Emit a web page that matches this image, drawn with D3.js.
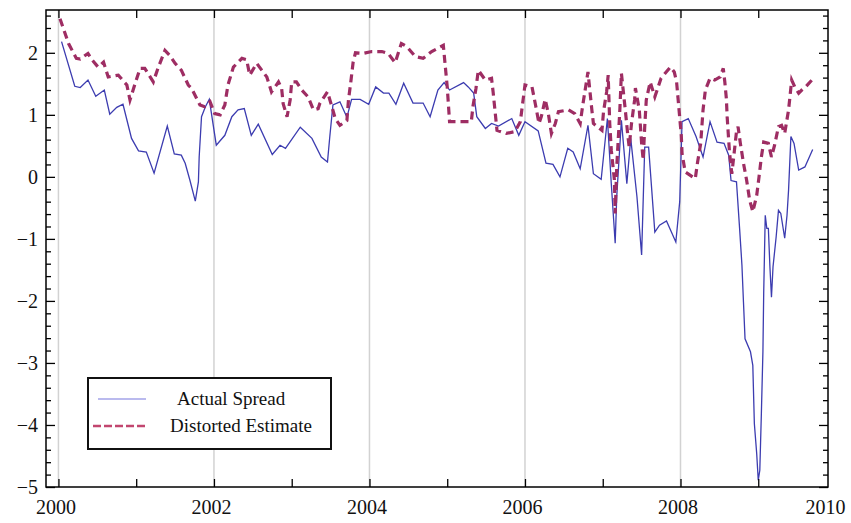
<!DOCTYPE html>
<html>
<head>
<meta charset="utf-8">
<script src="https://cdn.jsdelivr.net/npm/d3@7"></script>
<style>
  body { margin: 0; background: #fff; }
  text { font-family: "Liberation Serif", "Times New Roman", serif; }
</style>
</head>
<body>
<div id="chart"></div>
<script>
// actual spread: decimal year / value
const actualT = [2000.04,2000.21,2000.28,2000.38,2000.48,2000.59,2000.66,2000.75,2000.83,2000.94,
  2001.03,2001.13,2001.23,2001.40,2001.49,2001.58,2001.63,2001.69,2001.76,2001.80,2001.81,2001.84,2001.89,2001.94,
  2002.03,2002.14,2002.23,2002.31,2002.39,2002.48,2002.57,2002.75,2002.85,2002.92,
  2003.11,2003.26,2003.38,2003.46,2003.49,2003.53,2003.62,2003.71,2003.77,2003.88,2003.99,
  2004.08,2004.18,2004.25,2004.34,2004.44,2004.56,2004.69,2004.78,2004.88,2004.96,
  2005.03,2005.21,2005.27,2005.34,2005.38,2005.49,2005.57,2005.66,2005.83,2005.92,
  2006.00,2006.17,2006.27,2006.36,2006.45,2006.55,2006.62,2006.71,2006.81,2006.88,2006.98,
  2007.06,2007.11,2007.16,2007.18,2007.24,2007.31,2007.36,2007.44,2007.50,2007.54,2007.59,2007.67,2007.73,2007.82,2007.94,2007.99,
  2008.02,2008.10,2008.20,2008.29,2008.38,2008.47,2008.56,2008.62,2008.65,2008.72,2008.76,2008.79,2008.81,2008.83,2008.90,2008.93,2008.95,2008.98,
  2009.00,2009.02,2009.04,2009.06,2009.07,2009.09,2009.11,2009.13,2009.15,2009.17,2009.19,2009.23,2009.26,2009.29,2009.34,2009.37,2009.39,2009.42,2009.46,2009.52,2009.60,2009.70];
const actualV = [2.18,1.46,1.44,1.56,1.30,1.40,1.01,1.12,1.17,0.62,
  0.42,0.40,0.06,0.82,0.37,0.35,0.22,-0.05,-0.39,-0.08,0.32,0.97,1.13,1.25,
  0.51,0.67,0.97,1.08,1.10,0.67,0.85,0.36,0.51,0.46,
  0.80,0.62,0.32,0.24,0.65,1.16,1.21,0.96,1.25,1.25,1.17,
  1.45,1.35,1.35,1.17,1.51,1.19,1.19,0.97,1.40,1.52,
  1.40,1.52,1.45,1.35,0.97,0.78,0.86,0.82,0.94,0.67,
  0.89,0.74,0.22,0.20,0.00,0.46,0.40,0.13,0.83,0.05,-0.04,
  0.94,-0.11,-1.07,-0.32,0.91,-0.11,0.62,-0.32,-1.26,0.48,0.48,-0.89,-0.78,-0.71,-1.05,-0.40,
  0.89,0.94,0.65,0.32,0.89,0.56,0.54,0.35,-0.06,-0.08,-0.83,-1.42,-2.02,-2.61,-2.82,-3.04,-3.98,-4.46,
  -4.89,-4.73,-3.82,-2.82,-1.88,-0.62,-0.83,-0.83,-1.45,-1.94,-1.45,-0.97,-0.54,-0.59,-0.99,-0.62,-0.21,0.65,0.54,0.11,0.16,0.44];

// distorted estimate: decimal year / value
const estT = [2000.02,2000.13,2000.23,2000.28,2000.38,2000.43,2000.51,2000.58,2000.64,2000.77,2000.88,2000.92,2000.98,
  2001.05,2001.11,2001.22,2001.28,2001.37,2001.43,2001.50,2001.58,2001.67,2001.71,2001.82,2001.88,2001.95,
  2002.01,2002.08,2002.14,2002.18,2002.25,2002.36,2002.42,2002.46,2002.55,2002.68,2002.74,2002.83,2002.87,2002.89,2002.94,2002.98,
  2003.00,2003.06,2003.13,2003.21,2003.28,2003.34,2003.36,2003.46,2003.51,2003.56,2003.62,2003.71,2003.73,2003.76,2003.79,2003.82,2003.92,
  2004.03,2004.16,2004.24,2004.33,2004.41,2004.48,2004.59,2004.69,2004.80,2004.95,
  2005.00,2005.03,2005.31,2005.33,2005.37,2005.40,2005.49,2005.57,2005.59,2005.64,2005.76,2005.87,2005.94,
  2006.00,2006.09,2006.14,2006.18,2006.21,2006.26,2006.30,2006.34,2006.39,2006.43,2006.56,2006.64,2006.71,2006.74,2006.81,2006.86,2006.88,2006.99,
  2007.01,2007.05,2007.07,2007.09,2007.11,2007.15,2007.16,2007.18,2007.22,2007.24,2007.29,2007.32,2007.34,2007.37,2007.41,2007.42,2007.47,2007.50,2007.52,2007.54,2007.56,2007.61,2007.67,2007.75,2007.87,2007.92,2007.95,2007.97,
  2008.01,2008.02,2008.06,2008.19,2008.22,2008.26,2008.29,2008.32,2008.38,2008.44,2008.51,2008.55,2008.57,2008.59,2008.60,2008.63,2008.66,2008.68,2008.72,2008.74,2008.77,2008.81,2008.85,2008.89,2008.93,2008.98,
  2009.01,2009.04,2009.07,2009.13,2009.17,2009.21,2009.26,2009.30,2009.34,2009.39,2009.41,2009.43,2009.47,2009.52,2009.56,2009.61,2009.71];
const estV = [2.55,2.15,1.91,1.90,1.99,1.89,1.77,1.85,1.61,1.64,1.48,1.24,1.48,
  1.75,1.75,1.53,1.75,2.04,1.96,1.83,1.72,1.48,1.43,1.16,1.13,1.21,
  1.02,1.00,1.16,1.48,1.77,1.91,1.89,1.64,1.83,1.61,1.37,1.53,1.43,1.18,0.97,1.24,
  1.53,1.53,1.40,1.29,1.08,1.10,1.18,1.37,1.16,0.94,0.83,0.91,1.24,1.53,1.85,2.00,1.99,
  2.02,2.02,1.99,1.84,2.15,2.10,1.94,1.91,2.02,2.12,
  1.45,0.89,0.89,1.13,1.43,1.72,1.56,1.59,1.37,0.75,0.70,0.73,0.89,
  1.48,1.45,1.13,0.86,0.97,1.25,1.02,0.70,0.86,1.05,1.08,1.02,0.86,1.13,1.69,1.08,0.86,0.75,
  1.05,1.37,1.64,0.86,0.43,-0.05,-0.59,0.16,1.08,1.67,1.08,0.70,0.48,0.86,1.24,1.43,1.08,0.54,0.27,0.81,1.24,1.53,1.29,1.59,1.77,1.69,1.53,1.24,
  0.67,0.38,0.08,-0.03,0.24,0.54,1.08,1.40,1.59,1.56,1.61,1.75,1.53,1.26,0.97,0.40,0.05,0.27,0.73,0.81,0.54,0.22,-0.05,-0.38,-0.56,-0.30,
  0.00,0.32,0.56,0.54,0.32,0.51,0.81,0.83,0.70,1.08,1.32,1.56,1.45,1.35,1.40,1.45,1.59];

const gridYears = [2000, 2002, 2004, 2006, 2008];
const xLabelYears = [2000, 2002, 2004, 2006, 2008, 2010];
const allYears = [2000, 2001, 2002, 2003, 2004, 2005, 2006, 2007, 2008, 2009];
const yMajor = [-5, -4, -3, -2, -1, 0, 1, 2];
const seriesNames = ["Actual Spread", "Distorted Estimate"];

const WIDTH = 851, HEIGHT = 523;
const LEFT = 46, TOP = 10, RIGHT = 828, BOTTOM = 487;
const BLUE = "#3c3cb0", RED = "#9e2d63";

const svg = d3.select("#chart").append("svg")
  .attr("width", WIDTH).attr("height", HEIGHT);

const x = d3.scaleLinear().domain([1999.84, 2009.897]).range([LEFT, RIGHT]);
const y = d3.scaleLinear().domain([-5, 2.69]).range([BOTTOM, TOP]);

// vertical grid
svg.selectAll(".grid").data(gridYears).enter().append("line")
  .attr("x1", d => x(d)).attr("x2", d => x(d))
  .attr("y1", TOP).attr("y2", BOTTOM)
  .attr("stroke", "#d2d2d2").attr("stroke-width", 1.5);

const line = d3.line().x(d => x(d[0])).y(d => y(d[1]));

svg.append("path")
  .datum(actualT.map((t, i) => [t, actualV[i]]))
  .attr("d", line).attr("fill", "none")
  .attr("stroke", BLUE).attr("stroke-width", 1.3);

svg.append("path")
  .datum(estT.map((t, i) => [t, estV[i]]))
  .attr("d", line).attr("fill", "none")
  .attr("stroke", RED).attr("stroke-width", 3.2)
  .attr("stroke-dasharray", "8,5");

// minor y values every 0.2
const yMinor = d3.range(-50, 27, 2).map(d => d / 10).filter(d => !yMajor.includes(d));

function styleAxis(g) {
  g.select(".domain").remove();
  g.selectAll(".tick line").attr("stroke", "#000").attr("stroke-width", 1.3);
}

// bottom
const bottomAxis = svg.append("g").attr("transform", `translate(0,${BOTTOM})`)
  .call(d3.axisBottom(x).tickValues(xLabelYears).tickSize(0).tickPadding(13).tickFormat(d3.format("d")))
  .call(styleAxis);
bottomAxis.selectAll("text")
  .attr("font-size", 20).attr("fill", "#111")
  .attr("font-family", "Liberation Serif")
  .attr("dx", d => d === 2010 ? -11 : -3);
svg.append("g").attr("transform", `translate(0,${BOTTOM})`)
  .call(d3.axisBottom(x).tickValues(allYears).tickSize(-8).tickFormat(""))
  .call(styleAxis);

// top
svg.append("g").attr("transform", `translate(0,${TOP})`)
  .call(d3.axisTop(x).tickValues(allYears).tickSize(-8).tickFormat(""))
  .call(styleAxis);

// left
const leftAxis = svg.append("g").attr("transform", `translate(${LEFT},0)`)
  .call(d3.axisLeft(y).tickValues(yMajor).tickSize(-9).tickPadding(8).tickFormat(d => d < 0 ? "\u2212" + Math.abs(d) : d))
  .call(styleAxis);
leftAxis.selectAll("text").attr("font-size", 20).attr("fill", "#111")
  .attr("font-family", "Liberation Serif");
svg.append("g").attr("transform", `translate(${LEFT},0)`)
  .call(d3.axisLeft(y).tickValues(yMinor).tickSize(-5).tickFormat(""))
  .call(styleAxis);

// right
svg.append("g").attr("transform", `translate(${RIGHT},0)`)
  .call(d3.axisRight(y).tickValues(yMajor).tickSize(-9).tickFormat(""))
  .call(styleAxis);
svg.append("g").attr("transform", `translate(${RIGHT},0)`)
  .call(d3.axisRight(y).tickValues(yMinor).tickSize(-5).tickFormat(""))
  .call(styleAxis);

// frame
svg.append("rect")
  .attr("x", LEFT).attr("y", TOP)
  .attr("width", RIGHT - LEFT).attr("height", BOTTOM - TOP)
  .attr("fill", "none").attr("stroke", "#000").attr("stroke-width", 1.5);

// legend
const legend = svg.append("g");
legend.append("rect")
  .attr("x", 88).attr("y", 378).attr("width", 243).attr("height", 71)
  .attr("fill", "#fff").attr("stroke", "#111").attr("stroke-width", 2);

legend.append("line")
  .attr("x1", 98).attr("x2", 146).attr("y1", 399).attr("y2", 399)
  .attr("stroke", "#7777dd").attr("stroke-width", 1.2);
legend.append("line")
  .attr("x1", 93).attr("x2", 147).attr("y1", 426).attr("y2", 426)
  .attr("stroke", "#c2466f").attr("stroke-width", 2.5)
  .attr("stroke-dasharray", "8,3");

legend.append("text").attr("x", 177).attr("y", 405)
  .attr("font-size", 19).attr("fill", "#111").text(seriesNames[0]);
legend.append("text").attr("x", 170).attr("y", 432)
  .attr("font-size", 19).attr("fill", "#111").text(seriesNames[1]);
</script>
</body>
</html>
